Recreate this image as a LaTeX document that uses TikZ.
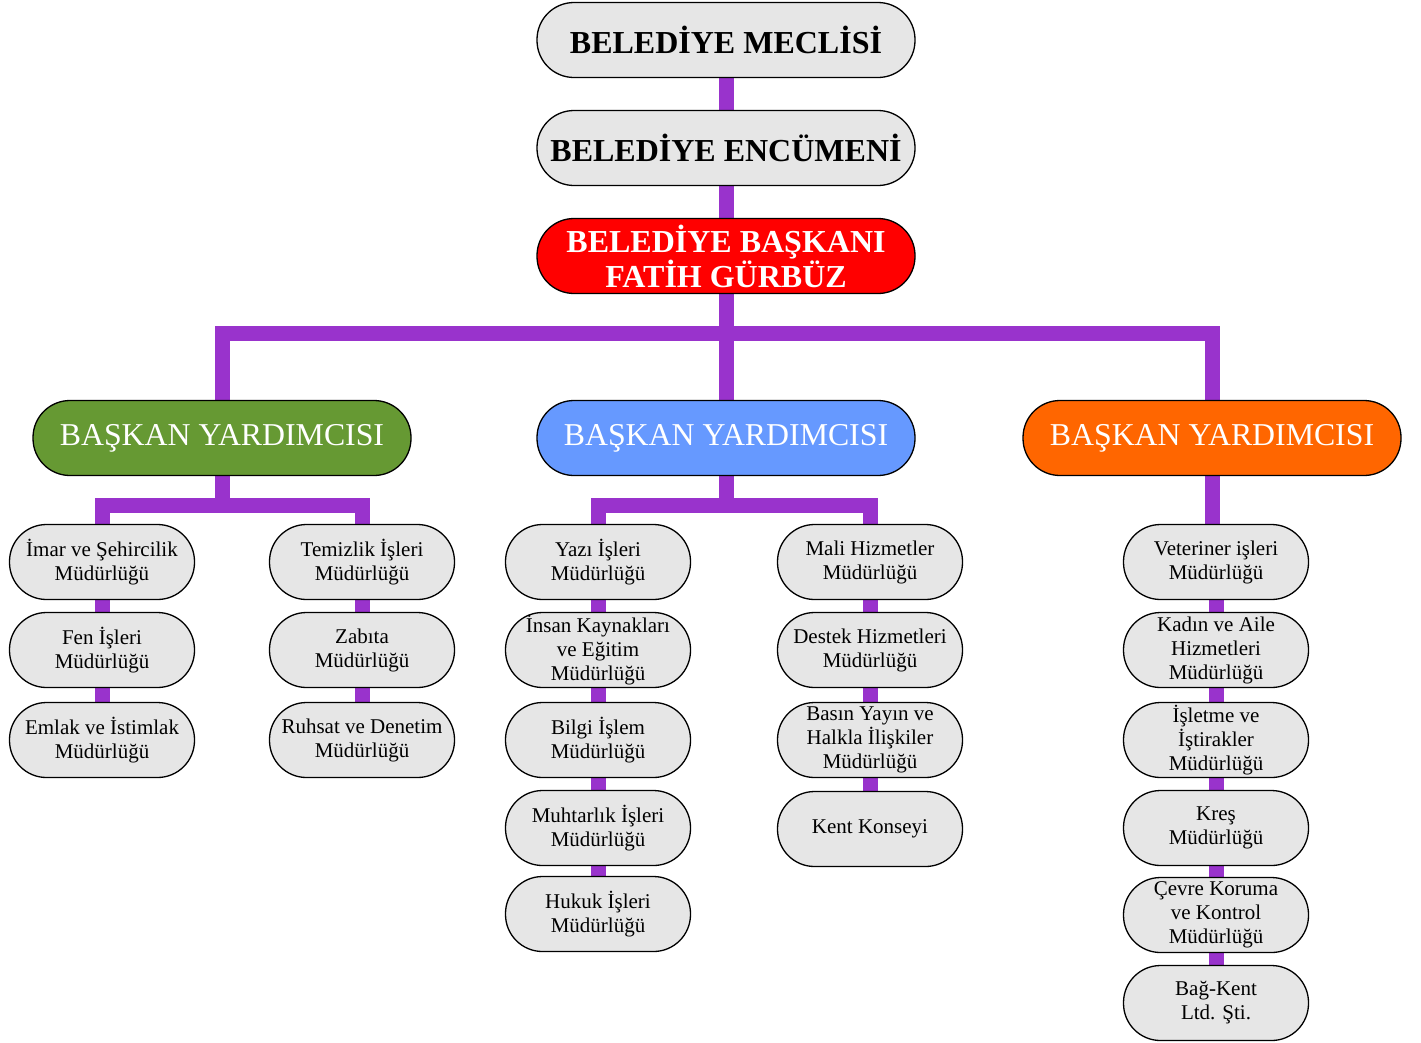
\documentclass[tikz,border=0pt]{standalone}
\usepackage{fontspec}
\setmainfont{Liberation Serif}
\usetikzlibrary{backgrounds}
\definecolor{lila}{HTML}{9933CC}
\definecolor{boxgray}{HTML}{E6E6E6}
\definecolor{vpgreen}{HTML}{669933}
\definecolor{vpblue}{HTML}{6699FF}
\definecolor{vporange}{HTML}{FF6600}
\tikzset{every node/.style={draw,line width=1.3pt,rounded corners=37pt,align=center,inner sep=0pt}}
\tikzset{box/.style={fill=boxgray,minimum width=185pt,minimum height=75pt,font=\fontsize{21}{24}\selectfont}}
\tikzset{head/.style={fill=boxgray,minimum width=378pt,minimum height=75pt,font=\fontsize{32}{35}\selectfont\bfseries}}
\tikzset{vp/.style={minimum width=378pt,minimum height=75pt,text=white,font=\fontsize{31.8}{34}\selectfont}}
\tikzset{link/.style={draw=lila,line width=15pt,line join=miter}}

\begin{document}
\begin{tikzpicture}[x=1pt,y=-1pt]
      \useasboundingbox (0,0) rectangle (1421,1042);
      \node[head] (mec) at (726,40) {BELEDİYE MECLİSİ};
      \node[head] (enc) at (726,148) {BELEDİYE ENCÜMENİ};
      \node[head,fill=red,text=white] (bsk) at (726,256) {BELEDİYE BAŞKANI\\FATİH GÜRBÜZ};
      \node[vp,fill=vpgreen] (vp1) at (222,438) {BAŞKAN YARDIMCISI};
      \node[vp,fill=vpblue] (vp2) at (726,438) {BAŞKAN YARDIMCISI};
      \node[vp,fill=vporange] (vp3) at (1212,438) {BAŞKAN YARDIMCISI};
%     first vice mayor
      \node[box] (imar) at (102,562) {İmar ve Şehircilik\\Müdürlüğü};
      \node[box] (fen) at (102,650) {Fen İşleri\\Müdürlüğü};
      \node[box] (emlak) at (102,740) {Emlak ve İstimlak\\Müdürlüğü};
      \node[box] (temiz) at (362,562) {Temizlik İşleri\\Müdürlüğü};
      \node[box] (zab) at (362,650) {Zabıta\\Müdürlüğü};
      \node[box] (ruhsat) at (362,740) {Ruhsat ve Denetim\\Müdürlüğü};
%     second vice mayor
      \node[box] (yazi) at (598,562) {Yazı İşleri\\Müdürlüğü};
      \node[box] (insan) at (598,650) {İnsan Kaynakları\\ve Eğitim\\Müdürlüğü};
      \node[box] (bilgi) at (598,740) {Bilgi İşlem\\Müdürlüğü};
      \node[box] (muh) at (598,828) {Muhtarlık İşleri\\Müdürlüğü};
      \node[box] (hukuk) at (598,914) {Hukuk İşleri\\Müdürlüğü};
      \node[box] (mali) at (870,562) {Mali Hizmetler\\Müdürlüğü};
      \node[box] (destek) at (870,650) {Destek Hizmetleri\\Müdürlüğü};
      \node[box] (basin) at (870,740) {Basın Yayın ve\\Halkla İlişkiler\\Müdürlüğü};
      \node[box] (kent) at (870,829) {Kent Konseyi};
%     third vice mayor
      \node[box] (vet) at (1216,562) {Veteriner işleri\\Müdürlüğü};
      \node[box] (kadin) at (1216,650) {Kadın ve Aile\\Hizmetleri\\Müdürlüğü};
      \node[box] (isl) at (1216,740) {İşletme ve\\İştirakler\\Müdürlüğü};
      \node[box] (kres) at (1216,828) {Kreş\\Müdürlüğü};
      \node[box] (cevre) at (1216,915) {Çevre Koruma\\ve Kontrol\\Müdürlüğü};
      \node[box] (bag) at (1216,1003) {Bağ-Kent\\Ltd. Şti.};
      \begin{scope}[on background layer]
        \coordinate (bar) at (726,333);
        \coordinate (gbar) at (222,505);
        \coordinate (bbar) at (726,505);
        \draw[link] (vp1) |- (bar) -| (vp3);
        \draw[link] (imar) |- (gbar) -| (temiz);
        \draw[link] (yazi) |- (bbar) -| (mali);
        \draw[link] (vp3) -- (vp3 |- vet);
        \foreach \a/\b in {mec/enc,enc/bsk,bsk/vp2,vp1/gbar,vp2/bbar,
            imar/fen,fen/emlak,temiz/zab,zab/ruhsat,
            yazi/insan,insan/bilgi,bilgi/muh,muh/hukuk,
            mali/destek,destek/basin,basin/kent,
            vet/kadin,kadin/isl,isl/kres,kres/cevre,cevre/bag}
          \draw[link] (\a) -- (\b);
      \end{scope}
    \end{tikzpicture}
\end{document}
